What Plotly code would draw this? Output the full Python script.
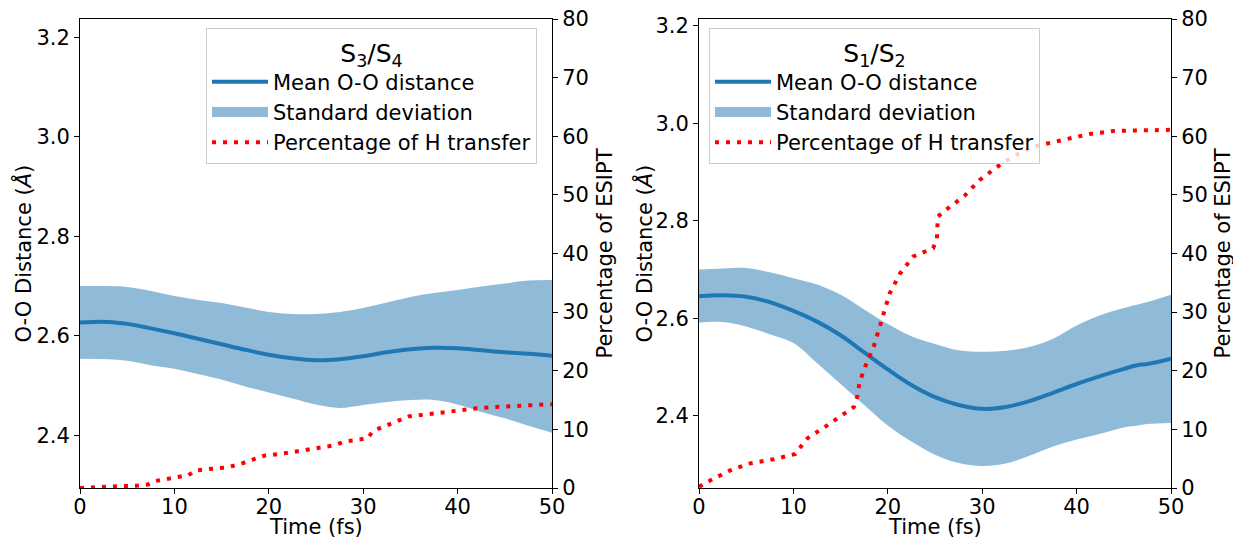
import plotly.graph_objects as go
from plotly.subplots import make_subplots

# ---------------- data: left panel (S3/S4) ----------------
t_left = [0, 3, 5, 7.5, 10, 12.5, 15, 17.5, 20, 22.5, 25, 27.5, 30, 32.5, 35, 37.5, 40, 42.5, 45, 47.5, 50]
mean_left = [2.627, 2.628, 2.624, 2.615, 2.605, 2.594, 2.583, 2.572, 2.562, 2.555, 2.551, 2.553,
             2.559, 2.567, 2.573, 2.576, 2.575, 2.571, 2.567, 2.564, 2.560]
upper_left = [2.700, 2.700, 2.698, 2.690, 2.680, 2.672, 2.666, 2.657, 2.648, 2.644, 2.644, 2.648,
              2.656, 2.667, 2.678, 2.686, 2.692, 2.699, 2.705, 2.711, 2.712]
lower_left = [2.554, 2.553, 2.550, 2.541, 2.534, 2.523, 2.512, 2.498, 2.486, 2.474, 2.462, 2.455,
              2.461, 2.467, 2.471, 2.471, 2.462, 2.447, 2.434, 2.419, 2.405]
tp_left = [0, 2, 4, 6, 7.2, 8, 10.5, 11.5, 12.2, 15.5, 16.8, 18.5, 19.5, 22, 25, 27, 28, 30.5, 31,
           33, 34.8, 37, 40, 42, 45, 48, 50]
pct_left = [0, 0.2, 0.3, 0.4, 0.6, 1.2, 1.8, 2.2, 3.0, 3.5, 4.0, 5.0, 5.5, 6.0, 6.7, 7.3, 7.9, 8.5,
            9.7, 11.0, 12.2, 12.6, 13.2, 13.6, 13.9, 14.2, 14.3]

# ---------------- data: right panel (S1/S2) ----------------
t_right = [0, 2.5, 5, 7.5, 10, 12.5, 15, 17.5, 20, 22.5, 25, 27.5, 30, 32.5, 35, 37.5, 40, 42.5, 45,
           46.5, 47.5, 50]
mean_right = [2.645, 2.647, 2.644, 2.633, 2.615, 2.593, 2.565, 2.530, 2.495, 2.463, 2.438, 2.422,
              2.414, 2.418, 2.430, 2.447, 2.465, 2.481, 2.496, 2.504, 2.506, 2.517]
upper_right = [2.700, 2.702, 2.703, 2.694, 2.682, 2.669, 2.648, 2.618, 2.588, 2.563, 2.547, 2.534,
               2.531, 2.533, 2.541, 2.558, 2.585, 2.606, 2.621, 2.628, 2.633, 2.648]
lower_right = [2.591, 2.592, 2.583, 2.567, 2.549, 2.508, 2.465, 2.422, 2.380, 2.347, 2.320, 2.303,
               2.297, 2.302, 2.318, 2.337, 2.351, 2.363, 2.376, 2.380, 2.383, 2.385]
tp_right = [0, 1.2, 3.3, 5.4, 7.9, 10.2, 11, 11.5, 13.5, 15.3, 16.4, 16.8, 17, 17.6, 18.5, 19.2, 19.6,
            20.2, 21.3, 22.7, 24.8, 25.2, 25.3, 26.2, 28.1, 29.7, 31.6, 33.3, 35.6, 38.1, 41.4, 43.9,
            47, 50]
pct_right = [0.2, 1.3, 3.0, 4.2, 4.9, 5.8, 7.5, 8.5, 10.6, 12.6, 13.8, 15.8, 18.0, 20.7, 24.1, 27.8,
             30.0, 33.2, 36.6, 39.5, 40.9, 42.5, 46.3, 47.5, 49.8, 52.5, 54.8, 56.6, 58.3, 59.2, 60.4,
             60.9, 61.0, 61.1]

x_ticks = [0, 10, 20, 30, 40, 50]
y_ticks = [2.4, 2.6, 2.8, 3.0, 3.2]
y_ticktext = ["2.4", "2.6", "2.8", "3.0", "3.2"]
pct_ticks = [0, 10, 20, 30, 40, 50, 60, 70, 80]

legend_titles = ["S<sub>3</sub>/S<sub>4</sub>", "S<sub>1</sub>/S<sub>2</sub>"]
names = ["Mean O-O distance", "Standard deviation", "Percentage of H transfer"]
x_title = "Time (fs)"
y_title = "O-O Distance (<i>Å</i>)"
y2_title = "Percentage of ESIPT"

BLUE = "#1f77b4"
FILL = "rgba(31,119,180,0.5)"

fig = make_subplots(rows=1, cols=2, specs=[[{"secondary_y": True}, {"secondary_y": True}]])

panels = [
    (1, t_left, mean_left, upper_left, lower_left, tp_left, pct_left, "legend"),
    (2, t_right, mean_right, upper_right, lower_right, tp_right, pct_right, "legend2"),
]

for col, t, mean, up, lo, tp, pct, leg in panels:
    fig.add_trace(go.Scatter(x=t, y=lo, mode="lines", line=dict(width=0, shape="spline", color="rgba(0,0,0,0)"),
                             showlegend=False, legend=leg, hoverinfo="skip"),
                  row=1, col=col, secondary_y=False)
    fig.add_trace(go.Scatter(x=t, y=up, mode="lines", fill="tonexty", fillcolor=FILL,
                             line=dict(width=0, shape="spline", color=FILL),
                             name=names[1], legend=leg, showlegend=False, legendgroup="sd" + leg),
                  row=1, col=col, secondary_y=False)
    # legend proxy for the shaded band (thick patch like the reference)
    fig.add_trace(go.Scatter(x=[None], y=[None], mode="lines", line=dict(width=10, color=FILL),
                             name=names[1], legend=leg, legendrank=2, legendgroup="sd" + leg,
                             hoverinfo="skip"),
                  row=1, col=col, secondary_y=False)
    fig.add_trace(go.Scatter(x=t, y=mean, mode="lines", line=dict(width=4, shape="spline", color=BLUE),
                             name=names[0], legend=leg, legendrank=1),
                  row=1, col=col, secondary_y=False)
    fig.add_trace(go.Scatter(x=tp, y=pct, mode="lines", line=dict(width=4, color="red", dash="4px,7px"),
                             name=names[2], legend=leg, legendrank=3),
                  row=1, col=col, secondary_y=True)

W, H = 1233, 540
ML, MR, MT, MB = 80, 62, 19, 52
PW = W - ML - MR
PH = H - MT - MB
dom_x1 = [0, (552 - ML) / PW]
dom_x2 = [(699 - ML) / PW, 1]


def px_x(px):
    return (px - ML) / PW


def px_y(py):
    return 1 - (py - MT) / PH


axis_common = dict(showline=True, linecolor="black", linewidth=1, ticks="outside", ticklen=5,
                   tickwidth=1, tickcolor="black", showgrid=False, zeroline=False, automargin=False,
                   tickfont=dict(size=21, color="black"))

fig.update_xaxes(**axis_common, ticklabelstandoff=-5)
fig.update_yaxes(**axis_common)

fig.update_layout(
    xaxis=dict(domain=dom_x1, range=[0, 50], tickvals=x_ticks, mirror=True),
    xaxis2=dict(domain=dom_x2, range=[0, 50], tickvals=x_ticks, mirror=True),
    yaxis=dict(domain=[0, 1], range=[2.294, 3.237], tickvals=y_ticks, ticktext=y_ticktext),
    yaxis2=dict(domain=[0, 1], range=[0, 80], tickvals=pct_ticks, side="right"),
    yaxis3=dict(domain=[0, 1], range=[2.2517, 3.2137], tickvals=y_ticks, ticktext=y_ticktext),
    yaxis4=dict(domain=[0, 1], range=[0, 80], tickvals=pct_ticks, side="right"),
)

# axis titles as annotations placed like the reference
title_font = dict(size=21, color="black", family="DejaVu Sans")
ann = []
for cx in [316, 935]:
    ann.append(dict(text=x_title, x=px_x(cx), y=px_y(527), xref="paper", yref="paper",
                    xanchor="center", yanchor="middle", showarrow=False, font=title_font))
for cx in [22, 643]:
    ann.append(dict(text=y_title, x=px_x(cx), y=0.5, xref="paper", yref="paper", textangle=-90,
                    xanchor="center", yanchor="middle", showarrow=False, font=title_font))
for cx in [604, 1222]:
    ann.append(dict(text=y2_title, x=px_x(cx), y=0.5, xref="paper", yref="paper", textangle=-90,
                    xanchor="center", yanchor="middle", showarrow=False, font=title_font))
fig.update_layout(annotations=ann)

legend_common = dict(xanchor="left", yanchor="top", y=px_y(28), bgcolor="rgba(255,255,255,0.8)",
                     bordercolor="#cccccc", borderwidth=1, font=dict(size=21, color="black"),
                     itemwidth=56, traceorder="normal")
fig.update_layout(
    legend=dict(x=px_x(206), title=dict(text=legend_titles[0], side="top center"), **legend_common),
    legend2=dict(x=px_x(709), title=dict(text=legend_titles[1], side="top center"), **legend_common),
)

fig.update_layout(
    width=W, height=H, margin=dict(l=ML, r=MR, t=MT, b=MB, autoexpand=False),
    paper_bgcolor="white", plot_bgcolor="white",
    font=dict(family="DejaVu Sans", size=21, color="black"),
    showlegend=True,
)

fig.write_html("out.html")
